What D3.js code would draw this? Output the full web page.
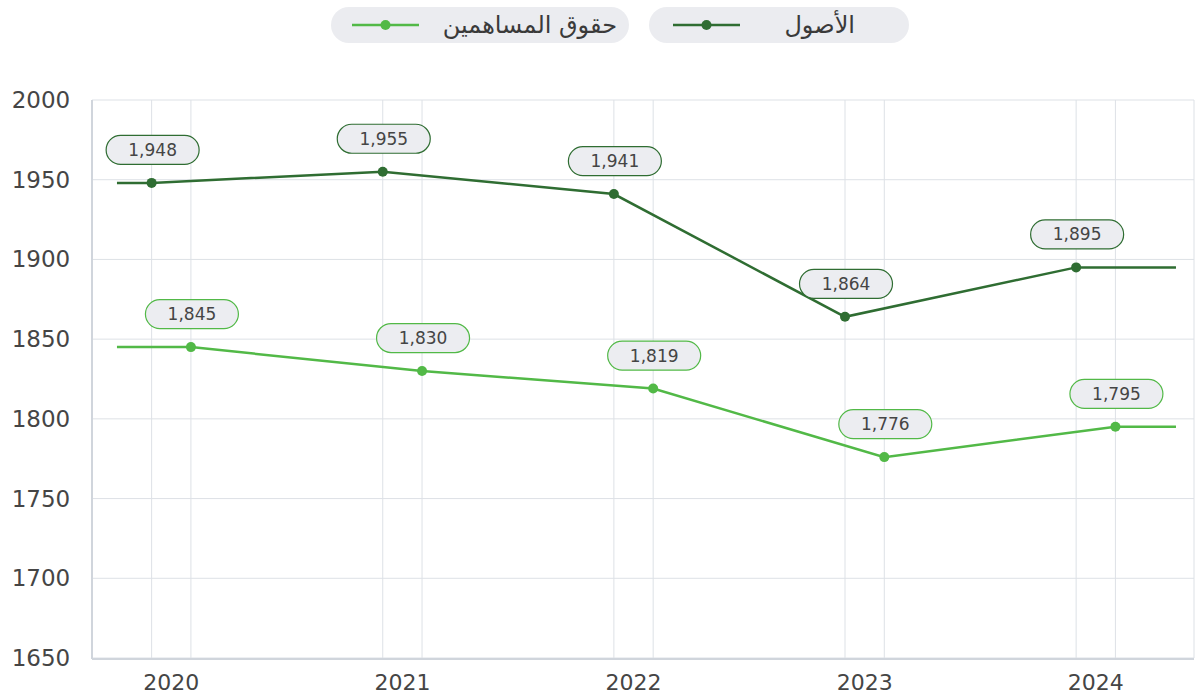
<!DOCTYPE html>
<html>
<head>
<meta charset="utf-8">
<script src="https://cdn.jsdelivr.net/npm/d3@7"></script>
<style>
  html, body { margin: 0; padding: 0; background: #fff; }
  #chart { width: 1196px; height: 697px; }
  text { font-family: "DejaVu Sans", "Noto Sans", sans-serif; }
</style>
</head>
<body>
<div id="chart"></div>
<script>
// بيانات الرسم
const years = ['2020', '2021', '2022', '2023', '2024'];
const assets = [1948, 1955, 1941, 1864, 1895];
const equity = [1845, 1830, 1819, 1776, 1795];
const yTicks = [1650, 1700, 1750, 1800, 1850, 1900, 1950, 2000];

const seriesList = [
    { name: 'الأصول', values: assets, color: '#2f6d32', offset: -0.085 },
    { name: 'حقوق المساهمين', values: equity, color: '#52b947', offset: 0.085 }
];

const width = 1196;
const height = 697;
const plot = { left: 92, right: 1194, top: 100, bottom: 658 };

const svg = d3.select('#chart').append('svg')
    .attr('width', width)
    .attr('height', height);

// المقاييس
const x = d3.scaleLinear()
    .domain([-0.343, 4.425])
    .range([plot.left, plot.right]);

const y = d3.scaleLinear()
    .domain([1650, 2000])
    .range([plot.bottom, plot.top]);

const lineStart = -0.235;
const lineEnd = 4.347;

// شبكة أفقية
svg.append('g')
    .selectAll('line')
    .data(yTicks)
    .join('line')
    .attr('x1', plot.left)
    .attr('x2', plot.right)
    .attr('y1', d => y(d))
    .attr('y2', d => y(d))
    .style('stroke', '#dde1e6')
    .style('stroke-width', 1);

// شبكة عمودية
const vGrid = [];
seriesList.forEach(s => years.forEach((yr, i) => vGrid.push(i + s.offset)));
svg.append('g')
    .selectAll('line')
    .data(vGrid)
    .join('line')
    .attr('x1', d => x(d))
    .attr('x2', d => x(d))
    .attr('y1', plot.top)
    .attr('y2', plot.bottom)
    .style('stroke', '#dde1e6')
    .style('stroke-width', 1);

// الحد الأيمن
svg.append('line')
    .attr('x1', plot.right).attr('x2', plot.right)
    .attr('y1', plot.top).attr('y2', plot.bottom)
    .style('stroke', '#dde1e6');

// المحاور
svg.append('line')
    .attr('x1', plot.left).attr('x2', plot.left)
    .attr('y1', plot.top).attr('y2', plot.bottom + 1)
    .style('stroke', '#d0d5dc')
    .style('stroke-width', 2);
svg.append('line')
    .attr('x1', plot.left).attr('x2', plot.right)
    .attr('y1', plot.bottom + 1).attr('y2', plot.bottom + 1)
    .style('stroke', '#d0d5dc')
    .style('stroke-width', 2);

// تسميات المحور ص
svg.append('g')
    .selectAll('text')
    .data(yTicks)
    .join('text')
    .attr('x', 41)
    .attr('y', d => y(d) + 8)
    .attr('text-anchor', 'middle')
    .style('font-size', '23px')
    .style('fill', '#454545')
    .text(d => d);

// تسميات المحور س
svg.append('g')
    .selectAll('text')
    .data(years)
    .join('text')
    .attr('x', (d, i) => x(i))
    .attr('y', 690)
    .attr('text-anchor', 'middle')
    .style('font-size', '22px')
    .style('fill', '#454545')
    .text(d => d);

// الخطوط والنقاط
const fmt = d3.format(',');
seriesList.forEach(s => {
    const pts = s.values.map((v, i) => ({ xi: i + s.offset, v }));
    const full = [{ xi: lineStart, v: s.values[0] }, ...pts,
        { xi: lineEnd, v: s.values[s.values.length - 1] }];

    svg.append('path')
        .datum(full)
        .attr('d', d3.line().x(d => x(d.xi)).y(d => y(d.v)))
        .style('fill', 'none')
        .style('stroke', s.color)
        .style('stroke-width', 2.5);

    svg.append('g')
        .selectAll('circle')
        .data(pts)
        .join('circle')
        .attr('cx', d => x(d.xi))
        .attr('cy', d => y(d.v))
        .attr('r', 5)
        .style('fill', s.color);

    const lbl = svg.append('g')
        .selectAll('g')
        .data(pts)
        .join('g')
        .attr('transform', d => `translate(${x(d.xi) + 1},${y(d.v) - 33})`);

    lbl.append('rect')
        .attr('x', -46.5)
        .attr('y', -14.5)
        .attr('width', 93)
        .attr('height', 29)
        .attr('rx', 14.5)
        .style('fill', '#ecedf1')
        .style('stroke', s.color)
        .style('stroke-width', 1.2);

    lbl.append('text')
        .attr('y', 6)
        .attr('text-anchor', 'middle')
        .style('font-size', '17px')
        .style('fill', '#454545')
        .text(d => fmt(d.v));
});

// وسيلة الإيضاح
const legendItems = [
    { s: seriesList[1], x: 331, w: 298, sym: 352, tx: 617 },
    { s: seriesList[0], x: 649, w: 260, sym: 673, tx: 855 }
];
legendItems.forEach(it => {
    const g = svg.append('g');
    g.append('rect')
        .attr('x', it.x).attr('y', 7)
        .attr('width', it.w).attr('height', 36)
        .attr('rx', 18)
        .style('fill', '#ebecf0');
    g.append('line')
        .attr('x1', it.sym).attr('x2', it.sym + 67)
        .attr('y1', 25).attr('y2', 25)
        .style('stroke', it.s.color)
        .style('stroke-width', 2.5);
    g.append('circle')
        .attr('cx', it.sym + 33.5).attr('cy', 25).attr('r', 5)
        .style('fill', it.s.color);
    g.append('text')
        .attr('x', it.tx).attr('y', 33)
        .attr('text-anchor', 'end')
        .style('font-size', '24px')
        .style('fill', '#3a3a3a')
        .text(it.s.name);
});
</script>
</body>
</html>
